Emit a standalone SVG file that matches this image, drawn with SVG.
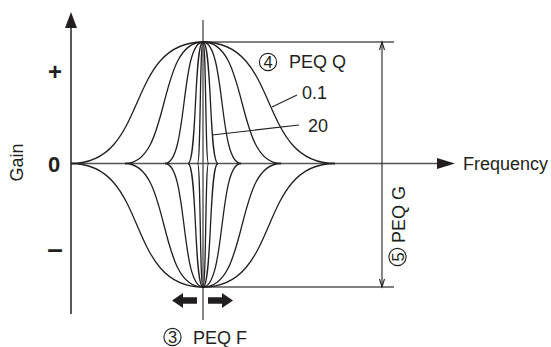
<svg xmlns="http://www.w3.org/2000/svg" width="551" height="347" viewBox="0 0 551 347">
<style>
.crv{fill:none;stroke:#231f20;stroke-width:1.3}
.ax{fill:none;stroke:#231f20;stroke-width:1.5}
.gr{fill:none;stroke:#555;stroke-width:1.4}
.thin{fill:none;stroke:#231f20;stroke-width:1.1}
.t{font-family:"Liberation Sans",Arial,sans-serif;fill:#231f20}
.b{font-family:"Liberation Sans",Arial,sans-serif;font-weight:bold;fill:#231f20}
.cir{fill:none;stroke:#231f20;stroke-width:1.1}
</style>
<rect width="551" height="347" fill="#fff"/>
<g id="connectors">
<line class="ax" x1="71" y1="26" x2="71" y2="314"/>
<polygon points="71,12 65,28 77,28" fill="#231f20"/>
<line class="gr" x1="71" y1="163.5" x2="440" y2="163.5"/>
<polygon points="455,163.5 437,158 437,169" fill="#231f20"/>
<line class="gr" x1="203" y1="20" x2="203" y2="320"/>
<line class="gr" x1="203" y1="42" x2="394" y2="42"/>
<line class="gr" x1="203" y1="287" x2="394" y2="287"/>
<line class="thin" x1="382" y1="42" x2="382" y2="287"/>
<polyline class="thin" points="379.5,50 382,42 384.5,50"/>
<polyline class="thin" points="379.5,279 382,287 384.5,279"/>
<line class="thin" x1="272" y1="107" x2="297" y2="95"/>
<line class="thin" x1="212" y1="135" x2="299" y2="125"/>
</g>
<g id="curves">
<path class="crv" d="M71,163.5 C150,163.5 124,42 203,42 C282,42 256,163.5 335,163.5"/>
<path class="crv" d="M71,163.5 C150,163.5 124,287 203,287 C282,287 256,163.5 335,163.5"/>
<path class="crv" d="M125,163.5 C171.8,163.5 156.2,42 203,42 C249.8,42 234.2,163.5 281,163.5"/>
<path class="crv" d="M125,163.5 C171.8,163.5 156.2,287 203,287 C249.8,287 234.2,163.5 281,163.5"/>
<path class="crv" d="M165,163.5 C187.8,163.5 180.2,42 203,42 C225.8,42 218.2,163.5 241,163.5"/>
<path class="crv" d="M165,163.5 C187.8,163.5 180.2,287 203,287 C225.8,287 218.2,163.5 241,163.5"/>
<path class="crv" d="M188,163.5 C197,163.5 194,42 203,42 C212,42 209,163.5 218,163.5"/>
<path class="crv" d="M188,163.5 C197,163.5 194,287 203,287 C212,287 209,163.5 218,163.5"/>
<path class="crv" d="M197.5,163.5 C200.8,163.5 199.7,42 203,42 C206.3,42 205.2,163.5 208.5,163.5"/>
<path class="crv" d="M197.5,163.5 C200.8,163.5 199.7,287 203,287 C206.3,287 205.2,163.5 208.5,163.5"/>
</g>
<g id="arrows-f">
<polygon points="172,300.5 183,293 183,297.2 197,297.2 197,303.8 183,303.8 183,308" fill="#231f20"/>
<polygon points="233,300.5 222,293 222,297.2 208,297.2 208,303.8 222,303.8 222,308" fill="#231f20"/>
</g>
<g id="labels">
<text class="b" x="55" y="80" font-size="24" text-anchor="middle">+</text>
<text class="b" x="54" y="172" font-size="22" text-anchor="middle">0</text>
<text class="b" x="55" y="258" font-size="28" text-anchor="middle">–</text>
<text class="t" font-size="18" text-anchor="middle" transform="translate(23,162.5) rotate(-90)">Gain</text>
<text class="t" x="463" y="170" font-size="18">Frequency</text>
</g>
<g id="label-q">
<circle class="cir" cx="268" cy="62" r="8.6"/>
<text class="t" x="268" y="68" font-size="16.5" text-anchor="middle">4</text>
<text class="t" x="289" y="68" font-size="18">PEQ Q</text>
<text class="t" x="302" y="99" font-size="18">0.1</text>
<text class="t" x="308" y="132" font-size="18">20</text>
</g>
<g id="label-g">
<circle class="cir" cx="397.5" cy="257" r="8.6"/>
<text class="t" font-size="16.5" text-anchor="middle" transform="translate(403.5,257) rotate(-90)">5</text>
<text class="t" font-size="18" transform="translate(405,243) rotate(-90)">PEQ G</text>
</g>
<g id="label-f">
<circle class="cir" cx="172.5" cy="337" r="8.6"/>
<text class="t" x="172.5" y="343" font-size="16.5" text-anchor="middle">3</text>
<text class="t" x="193" y="344" font-size="18">PEQ F</text>
</g>
</svg>
